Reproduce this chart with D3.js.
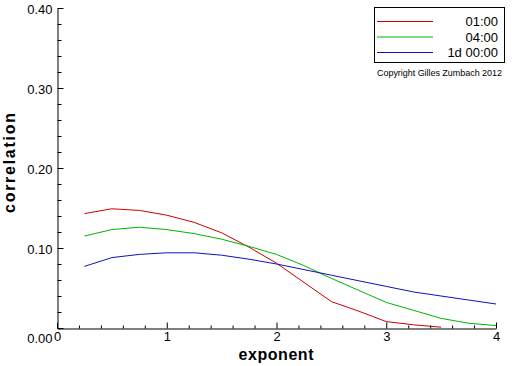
<!DOCTYPE html>
<html>
<head>
<meta charset="utf-8">
<script src="https://cdn.jsdelivr.net/npm/d3@7"></script>
<style>
  html, body { margin: 0; padding: 0; background: #fff; }
  svg { display: block; }
  text { font-family: "Liberation Sans", Arial, sans-serif; }
</style>
</head>
<body>
<svg id="chart" width="512" height="366"></svg>
<script>
// ---- data ----
const exponents = [0.25, 0.5, 0.75, 1.0, 1.25, 1.5, 1.75, 2.0, 2.25, 2.5, 2.75, 3.0, 3.25, 3.5, 3.75, 4.0];
const seriesNames = ["01:00", "04:00", "1d 00:00"];
const seriesColors = ["#cc0000", "#00b400", "#1010c0"];
const values0100 = [0.143, 0.149, 0.147, 0.141, 0.132, 0.119, 0.101, 0.081, 0.057, 0.033, 0.021, 0.008, 0.004, 0.001];
const values0400 = [0.115, 0.123, 0.126, 0.123, 0.118, 0.111, 0.102, 0.092, 0.078, 0.062, 0.047, 0.032, 0.022, 0.012, 0.006, 0.003];
const values1d = [0.077, 0.088, 0.092, 0.094, 0.094, 0.091, 0.086, 0.080, 0.073, 0.066, 0.059, 0.052, 0.045, 0.040, 0.035, 0.030];
const xMajorTicks = [0, 1, 2, 3, 4];
const xMinorTicks = [0.2, 0.4, 0.6, 0.8, 1.2, 1.4, 1.6, 1.8, 2.2, 2.4, 2.6, 2.8, 3.2, 3.4, 3.6, 3.8];
const yMajorTicks = [0, 0.1, 0.2, 0.3, 0.4];
const yMinorTicks = [0.02, 0.04, 0.06, 0.08, 0.12, 0.14, 0.16, 0.18, 0.22, 0.24, 0.26, 0.28, 0.32, 0.34, 0.36, 0.38];
const xTitle = "exponent";
const yTitle = "correlation";
const copyright = "Copyright Gilles Zumbach 2012";

const seriesValues = [values0100, values0400, values1d];

// ---- layout ----
const svg = d3.select("#chart");
const x = d3.scaleLinear().domain([0, 4]).range([57, 496]);
const y = d3.scaleLinear().domain([0, 0.4]).range([328, 8]);

// lines
const line = d3.line().x(d => x(d[0])).y(d => y(d[1]));
seriesValues.forEach((vals, i) => {
  const pts = vals.map((v, j) => [exponents[j], v]);
  svg.append("path")
    .attr("d", line(pts))
    .attr("fill", "none")
    .attr("stroke", seriesColors[i])
    .attr("stroke-width", 1);
});

// axes
function styleAxis(g) {
  g.selectAll("path.domain").attr("stroke", "#000").attr("stroke-width", 1);
  g.selectAll(".tick line").attr("stroke", "#000").attr("stroke-width", 1);
  g.selectAll(".tick text").attr("fill", "#000").style("font-size", "13px")
    .style("font-family", '"Liberation Sans", Arial, sans-serif');
}

const gyMinor = svg.append("g").attr("transform", "translate(57.5,0)")
  .call(d3.axisLeft(y).tickValues(yMinorTicks).tickFormat("").tickSizeInner(-4).tickSizeOuter(0));
gyMinor.select("path.domain").remove();
styleAxis(gyMinor);

const gy = svg.append("g").attr("transform", "translate(57.5,0)")
  .call(d3.axisLeft(y).tickValues(yMajorTicks).tickFormat(d3.format(".2f")).tickSizeInner(-6).tickSizeOuter(0).tickPadding(5));
styleAxis(gy);
gy.selectAll(".tick text").attr("dy", "0.42em");
gy.selectAll(".tick").filter(d => d === 0).select("text").attr("dy", "1.1em");

const gxMinor = svg.append("g").attr("transform", "translate(0,328.5)")
  .call(d3.axisBottom(x).tickValues(xMinorTicks).tickFormat("").tickSizeInner(-3).tickSizeOuter(0));
gxMinor.select("path.domain").remove();
styleAxis(gxMinor);

const gx = svg.append("g").attr("transform", "translate(0,328.5)")
  .call(d3.axisBottom(x).tickValues(xMajorTicks).tickFormat(d3.format("d")).tickSizeInner(-6).tickSizeOuter(0).tickPadding(3));
styleAxis(gx);

// axis titles
svg.append("text")
  .attr("x", 276).attr("y", 360)
  .attr("text-anchor", "middle")
  .style("font-size", "16px").style("font-weight", "bold")
  .attr("textLength", 75).attr("lengthAdjust", "spacing")
  .text(xTitle);

svg.append("text")
  .attr("transform", "translate(15,163) rotate(-90)")
  .attr("text-anchor", "middle")
  .style("font-size", "16px").style("font-weight", "bold")
  .attr("textLength", 100).attr("lengthAdjust", "spacing")
  .text(yTitle);

// legend
svg.append("rect")
  .attr("x", 374.5).attr("y", 7.5).attr("width", 130).attr("height", 55)
  .attr("fill", "#fff").attr("stroke", "#000").attr("stroke-width", 1);

const legendY = d3.scalePoint().domain(seriesNames).range([21.5, 52.5]);
seriesNames.forEach((name, i) => {
  const ly = legendY(name);
  svg.append("line")
    .attr("x1", 377).attr("x2", 433)
    .attr("y1", ly).attr("y2", ly)
    .attr("stroke", seriesColors[i]).attr("stroke-width", 1);
  svg.append("text")
    .attr("x", 498).attr("y", ly + 4.5)
    .attr("text-anchor", "end")
    .style("font-size", "13px")
    .text(name);
});

svg.append("text")
  .attr("x", 377).attr("y", 75.5)
  .style("font-size", "9px")
  .attr("textLength", 125).attr("lengthAdjust", "spacing")
  .text(copyright);
</script>
</body>
</html>
